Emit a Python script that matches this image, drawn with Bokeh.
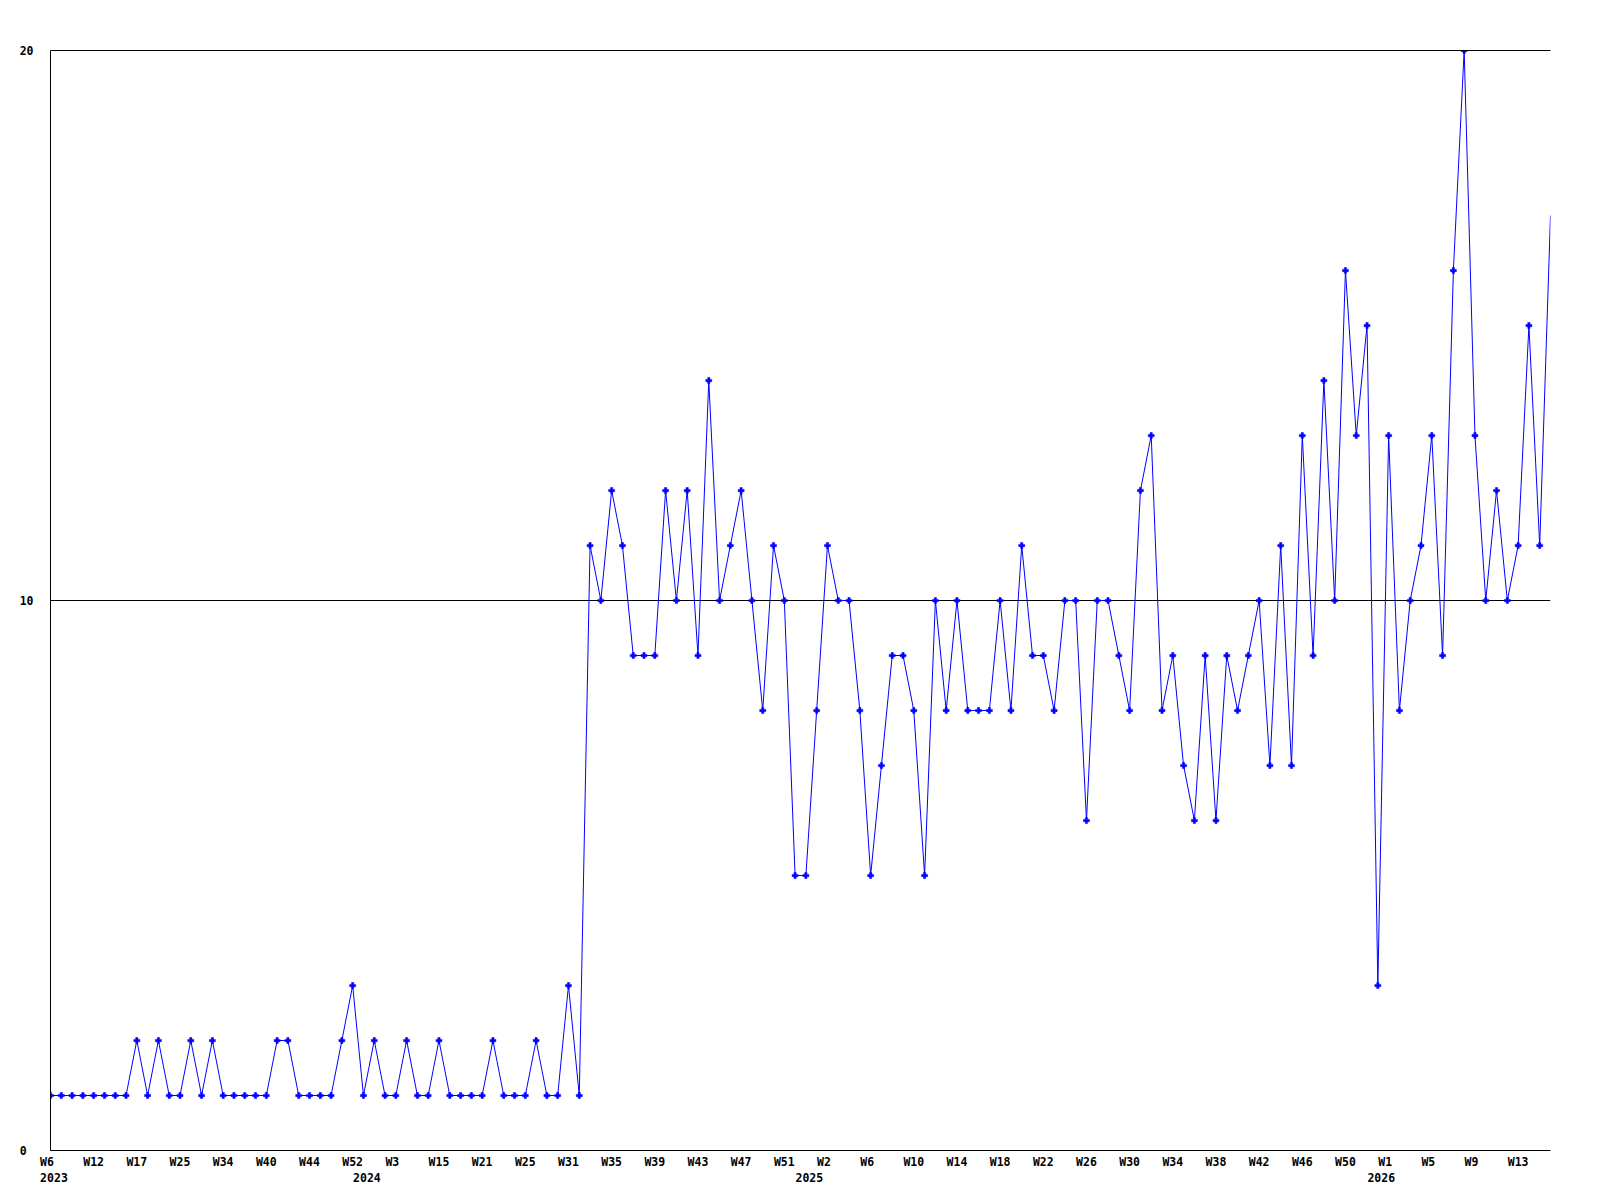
from bokeh.plotting import figure
from bokeh.models import Range1d, FixedTicker, LinearAxis, ColumnDataSource
from bokeh.embed import file_html
from bokeh.resources import INLINE

# ---- data (one value per reported week, in order) ----
values = [
    1, 1, 1, 1, 1, 1, 1, 1, 2, 1,
    2, 1, 1, 2, 1, 2, 1, 1, 1, 1,
    1, 2, 2, 1, 1, 1, 1, 2, 3, 1,
    2, 1, 1, 2, 1, 1, 2, 1, 1, 1,
    1, 2, 1, 1, 1, 2, 1, 1, 3, 1,
    11, 10, 12, 11, 9, 9, 9, 12, 10, 12,
    9, 14, 10, 11, 12, 10, 8, 11, 10, 5,
    5, 8, 11, 10, 10, 8, 5, 7, 9, 9,
    8, 5, 10, 8, 10, 8, 8, 8, 10, 8,
    11, 9, 9, 8, 10, 10, 6, 10, 10, 9,
    8, 12, 13, 8, 9, 7, 6, 9, 6, 9,
    8, 9, 10, 7, 11, 7, 13, 9, 14, 10,
    16, 13, 15, 3, 13, 8, 10, 11, 13, 9,
    16, 20, 13, 10, 12, 10, 11, 15, 11, 17,
]
index = list(range(len(values)))

# week tick labels (every 4th point) and year labels (first point of each year)
week_ticks = list(range(0, 137, 4))
week_labels = ["W6", "W12", "W17", "W25", "W34", "W40", "W44", "W52", "W3", "W15",
               "W21", "W25", "W31", "W35", "W39", "W43", "W47", "W51", "W2", "W6",
               "W10", "W14", "W18", "W22", "W26", "W30", "W34", "W38", "W42", "W46",
               "W50", "W1", "W5", "W9", "W13"]
year_ticks = [0, 29, 70, 123]
year_labels = ["2023", "2024", "2025", "2026"]
y_ticks = [0, 10, 20]
y_labels = ["0", "10", "20"]

FONT = "DejaVu Sans Mono"
FSIZE = "11.5px"
NB = "\u00a0"

p = figure(width=1580, height=1184, output_backend="svg", toolbar_location=None,
           x_range=Range1d(0, len(values) - 1), y_range=Range1d(0, 20),
           frame_width=1500, frame_height=1100,
           min_border_left=50, min_border_top=50, min_border_right=30, min_border_bottom=34,
           x_axis_location=None, y_axis_location=None)
p.outline_line_color = None
p.background_fill_color = "white"
p.border_fill_color = "white"


def style_axis(ax):
    ax.axis_line_color = "black"
    ax.axis_line_width = 1
    ax.major_tick_line_color = None
    ax.minor_tick_line_color = None
    ax.major_tick_out = 0
    ax.major_tick_in = 0
    ax.minor_tick_out = 0
    ax.major_label_text_font = FONT
    ax.major_label_text_font_size = FSIZE
    ax.major_label_text_font_style = "bold"
    ax.major_label_text_color = "black"


# x axis: week labels and (second line) year labels; labels padded so that they
# start about one point-spacing left of their point, as in the original
x_overrides = {}
for t, s in zip(week_ticks, week_labels):
    x_overrides[t] = s + NB * (3 - len(s))
for t, s in zip(year_ticks, year_labels):
    first = x_overrides.get(t, NB)
    x_overrides[t] = first + "\n" + NB + s
xax = LinearAxis(ticker=FixedTicker(ticks=sorted(set(week_ticks + year_ticks))),
                 major_label_overrides=x_overrides)
style_axis(xax)
xax.major_label_standoff = 4
xax.major_label_text_line_height = 1.15
p.add_layout(xax, "below")

# y axis: labels left aligned (pad short ones)
y_overrides = {t: s + NB * (2 - len(s)) for t, s in zip(y_ticks, y_labels)}
yax = LinearAxis(ticker=FixedTicker(ticks=y_ticks), major_label_overrides=y_overrides)
style_axis(yax)
yax.major_label_standoff = 17
p.add_layout(yax, "left")

# top line at 20
top = LinearAxis(ticker=FixedTicker(ticks=[]))
style_axis(top)
top.major_label_text_font_size = "0px"
p.add_layout(top, "above")

p.xgrid.visible = False
p.ygrid.ticker = FixedTicker(ticks=[10])
p.ygrid.grid_line_color = "black"
p.ygrid.grid_line_alpha = 1.0
p.ygrid.grid_line_width = 1

src = ColumnDataSource(dict(x=index, y=values))
p.line("x", "y", source=src, line_color="#0000ff", line_width=1)
msrc = ColumnDataSource(dict(x=index[:-1], y=values[:-1]))
p.scatter("x", "y", source=msrc, marker="plus", size=6, fill_color="#0000ff",
          line_color="#0000ff", line_width=0.5)

open("out.html", "w").write(file_html(p, INLINE))
